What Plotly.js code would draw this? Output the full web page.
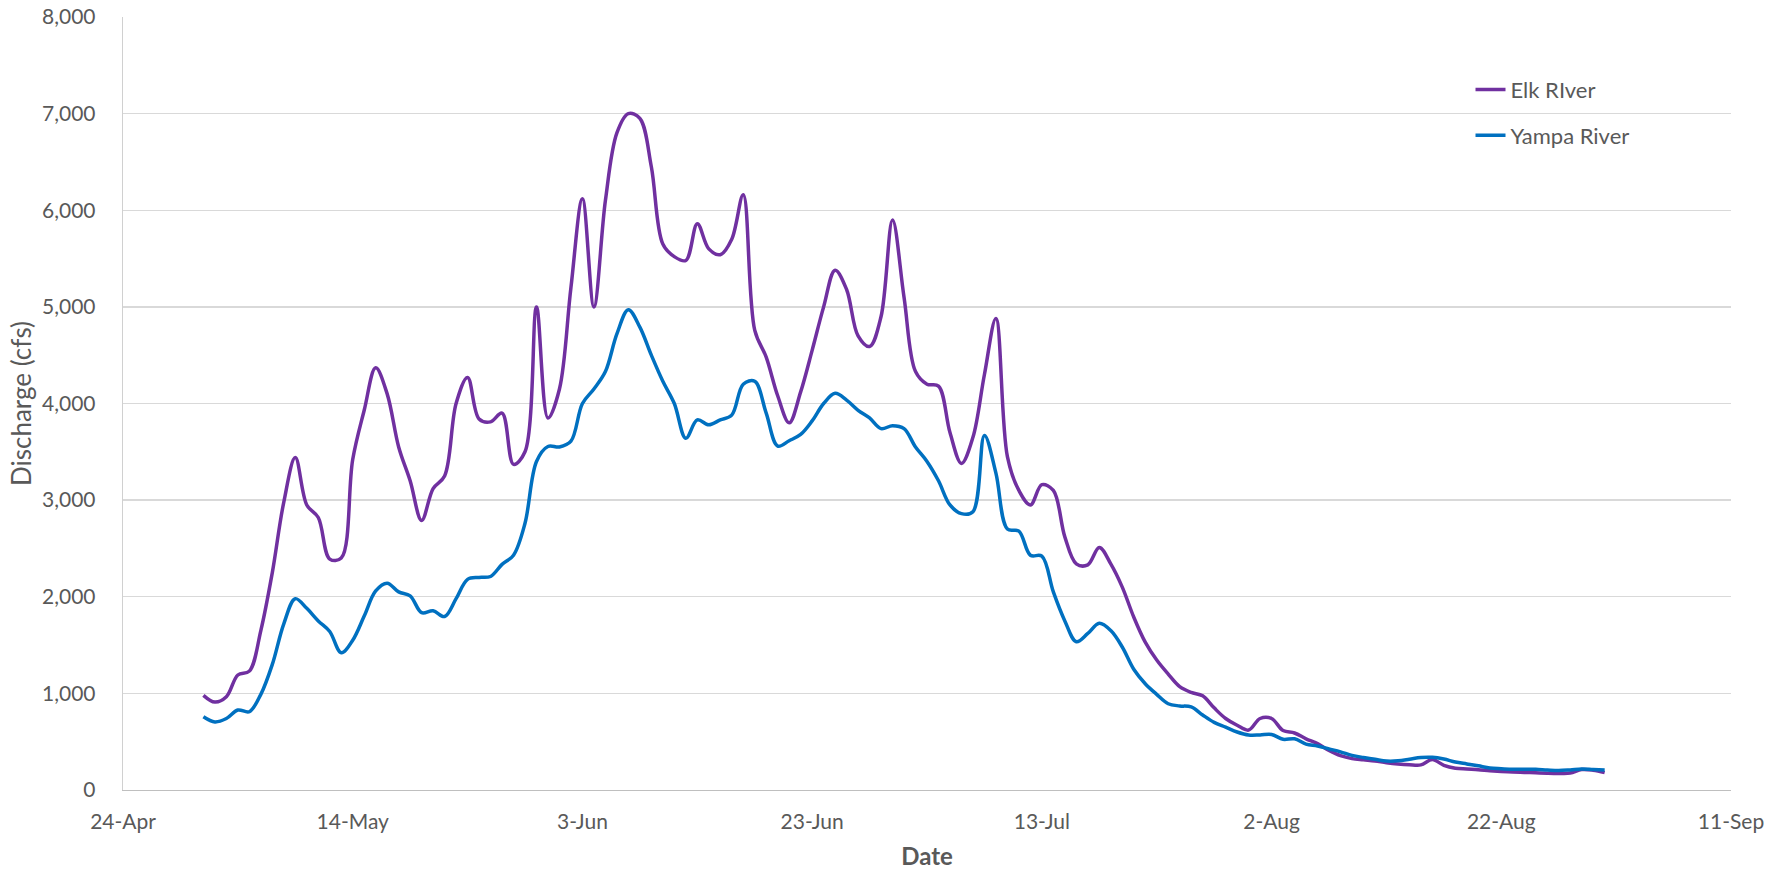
<!DOCTYPE html>
<html>
<head>
<meta charset="utf-8">
<script src="https://cdn.plot.ly/plotly-3.0.1.min.js"></script>
<style>html,body{margin:0;padding:0;background:#fff;}#chart{width:1783px;height:870px;}</style>
</head>
<body>
<div id="chart"></div>
<script>
// Daily discharge (cfs), first value on 1 May
const startDate = '2019-05-01';
const seriesNames = ['Elk RIver', 'Yampa River'];
const elkRiver = [980, 910, 965, 1190, 1230, 1650, 2250, 2980, 3440, 2950, 2820, 2390, 2400, 3420, 3930, 4370, 4100, 3550, 3200, 2790,
  3120, 3250, 4000, 4270, 3840, 3810, 3900, 3370, 3500, 5000, 3850, 4150, 5200, 6120, 5000, 6100, 6800, 7000, 6950, 6450,
  5650, 5520, 5480, 5860, 5600, 5540, 5700, 6160, 4760, 4480, 4080, 3800, 4120, 4550, 5000, 5380, 5180, 4700, 4590, 4900,
  5900, 5100, 4330, 4200, 4180, 3700, 3380, 3650, 4300, 4880, 3450, 3100, 2950, 3160, 3100, 2620, 2340, 2330, 2510, 2340,
  2100, 1790, 1530, 1345, 1200, 1070, 1010, 975, 850, 740, 670, 620, 740, 740, 615, 590, 530, 480, 410, 355,
  325, 312, 300, 283, 270, 262, 260, 315, 255, 225, 217, 210, 200, 192, 186, 182, 178, 174, 172, 175,
  212, 205, 180];
const yampaRiver = [758, 705, 740, 828, 810, 990, 1300, 1720, 1980, 1880, 1750, 1640, 1420, 1550, 1800, 2060, 2140, 2050, 2010, 1835,
  1855, 1795, 1980, 2180, 2200, 2210, 2335, 2430, 2760, 3400, 3555, 3550, 3610, 4000, 4150, 4330, 4720, 4970, 4790, 4500,
  4230, 4000, 3640, 3830, 3780, 3830, 3880, 4200, 4230, 3900, 3560, 3615, 3680, 3820, 4000, 4105, 4035, 3930, 3850, 3740,
  3770, 3740, 3550, 3400, 3200, 2950, 2860, 2880, 3670, 3280, 2700, 2680, 2430, 2420, 2050, 1750, 1534, 1620, 1725, 1650,
  1480, 1250, 1100, 990, 893, 870, 860, 776, 700, 650, 600, 569, 570, 575, 525, 530, 475, 455, 425, 395,
  358, 336, 318, 300, 302, 318, 336, 338, 320, 290, 270, 250, 228, 220, 214, 216, 214, 207, 202, 208,
  217, 212, 207];
const xRange = ['2019-04-24', '2019-09-11'];
const tickStart = '2019-04-24';
const tickStepDays = 20;
const yRange = [0, 8000];
const yStep = 1000;

function dateList(start, n) {
  const out = [];
  const d0 = new Date(start + 'T00:00:00Z');
  for (let i = 0; i < n; i++) {
    const d = new Date(d0.getTime() + i * 86400000);
    out.push(d.toISOString().slice(0, 10));
  }
  return out;
}
const dates = dateList(startDate, elkRiver.length);

const FONT = 'Lato, "Open Sans", "DejaVu Sans", sans-serif';
const GREY = '#595959';

const traces = [
  {x: dates, y: elkRiver, name: seriesNames[0], type: 'scatter', mode: 'lines', legendgroup: 'a',
   line: {color: '#7030A0', width: 3.5, shape: 'spline', smoothing: 1}},
  {x: dates, y: yampaRiver, name: seriesNames[1], type: 'scatter', mode: 'lines', legendgroup: 'b',
   line: {color: '#0070C0', width: 3.5, shape: 'spline', smoothing: 1}}
];

const layout = {
  width: 1783, height: 870,
  margin: {l: 123, r: 52, t: 17, b: 80, pad: 0},
  paper_bgcolor: '#fff', plot_bgcolor: '#fff',
  font: {family: FONT, color: GREY},
  showlegend: true,
  legend: {x: 0.838, y: 0.933, xanchor: 'left', yanchor: 'top', bgcolor: 'rgba(0,0,0,0)',
           font: {family: FONT, size: 22, color: GREY}, traceorder: 'grouped', tracegroupgap: 14},
  xaxis: {
    type: 'date', range: xRange, tick0: tickStart, dtick: tickStepDays * 86400000,
    tickformat: '%-d-%b', showgrid: false, zeroline: false,
    showline: true, linecolor: '#bfbfbf', linewidth: 1.3, ticks: '',
    tickfont: {family: FONT, size: 21, color: GREY}, ticklabelstandoff: 12,
    automargin: false,
    title: {text: '<b>Date</b>', font: {family: FONT, size: 24, color: GREY}, standoff: 22}
  },
  yaxis: {
    range: yRange, dtick: yStep, tick0: 0, tickformat: ',d',
    showgrid: true, gridcolor: '#d9d9d9', gridwidth: 1.3, zeroline: false,
    showline: true, linecolor: '#d0d0d0', linewidth: 1.3, ticks: '',
    tickfont: {family: FONT, size: 21, color: GREY}, ticklabelstandoff: 22,
    automargin: false,
    title: {text: 'Discharge (cfs)', font: {family: FONT, size: 26, color: GREY}, standoff: 3}
  },
  hovermode: false
};

Plotly.newPlot('chart', traces, layout, {displayModeBar: false, staticPlot: true});
</script>
</body>
</html>
